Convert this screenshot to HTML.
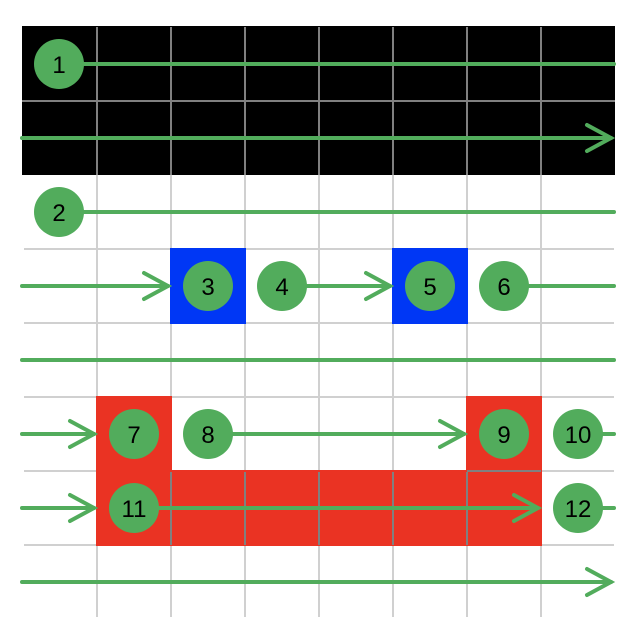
<!DOCTYPE html><html><head><style>body{margin:0;background:#fff}svg{display:block}</style></head><body>
<svg width="638" height="642" viewBox="0 0 638 642" xmlns="http://www.w3.org/2000/svg" font-family="Liberation Sans, sans-serif">
<rect x="22" y="26" width="593" height="149" fill="#000"/>
<g stroke="#d0d0d0" stroke-width="2">
<line x1="97" y1="175" x2="97" y2="617"/><line x1="171" y1="175" x2="171" y2="617"/><line x1="245" y1="175" x2="245" y2="617"/><line x1="319" y1="175" x2="319" y2="617"/><line x1="393" y1="175" x2="393" y2="617"/><line x1="467" y1="175" x2="467" y2="617"/><line x1="541" y1="175" x2="541" y2="617"/>
<line x1="24" y1="249" x2="614" y2="249"/><line x1="24" y1="323" x2="614" y2="323"/><line x1="24" y1="397" x2="614" y2="397"/><line x1="24" y1="471" x2="614" y2="471"/><line x1="24" y1="545" x2="614" y2="545"/>
</g>
<rect x="170" y="248" width="76" height="76" fill="#0037F5"/>
<rect x="392" y="248" width="76" height="76" fill="#0037F5"/>
<rect x="96" y="396" width="76" height="150" fill="#EA3323"/>
<rect x="466" y="396" width="76" height="150" fill="#EA3323"/>
<rect x="96" y="470" width="446" height="76" fill="#EA3323"/>
<g stroke="#808080" stroke-width="2">
<line x1="97" y1="27" x2="97" y2="175"/><line x1="171" y1="27" x2="171" y2="175"/><line x1="245" y1="27" x2="245" y2="175"/><line x1="319" y1="27" x2="319" y2="175"/><line x1="393" y1="27" x2="393" y2="175"/><line x1="467" y1="27" x2="467" y2="175"/><line x1="541" y1="27" x2="541" y2="175"/>
<line x1="22" y1="101" x2="615" y2="101"/>
<line x1="171" y1="472" x2="171" y2="545"/><line x1="245" y1="472" x2="245" y2="545"/><line x1="319" y1="472" x2="319" y2="545"/><line x1="393" y1="472" x2="393" y2="545"/><line x1="467" y1="472" x2="467" y2="545"/><line x1="467" y1="471" x2="541" y2="471"/>
</g>
<g stroke="#52AC5C" stroke-width="4" fill="none" stroke-linecap="round">
<line x1="84" y1="64" x2="614" y2="64"/>
<line x1="22" y1="138" x2="611" y2="138"/><polyline points="587,125 611,138 587,151"/>
<line x1="84" y1="212" x2="614" y2="212"/>
<line x1="22" y1="286" x2="168" y2="286"/><polyline points="144,273 168,286 144,299"/>
<line x1="307" y1="286" x2="390" y2="286"/><polyline points="366,273 390,286 366,299"/>
<line x1="529" y1="286" x2="614" y2="286"/>
<line x1="22" y1="360" x2="614" y2="360"/>
<line x1="22" y1="434" x2="94" y2="434"/><polyline points="70,421 94,434 70,447"/>
<line x1="233" y1="434" x2="464" y2="434"/><polyline points="440,421 464,434 440,447"/>
<line x1="603" y1="434" x2="614" y2="434"/>
<line x1="22" y1="508" x2="94" y2="508"/><polyline points="70,495 94,508 70,521"/>
<line x1="159" y1="508" x2="538" y2="508"/><polyline points="514,495 538,508 514,521"/>
<line x1="603" y1="508" x2="614" y2="508"/>
<line x1="22" y1="582" x2="611" y2="582"/><polyline points="587,569 611,582 587,595"/>
</g>
<g fill="#52AC5C">
<circle cx="59" cy="64" r="25"/><circle cx="59" cy="212" r="25"/><circle cx="208" cy="286" r="25"/><circle cx="282" cy="286" r="25"/><circle cx="430" cy="286" r="25"/><circle cx="504" cy="286" r="25"/><circle cx="134" cy="434" r="25"/><circle cx="208" cy="434" r="25"/><circle cx="504" cy="434" r="25"/><circle cx="578" cy="434" r="25"/><circle cx="134" cy="508" r="25"/><circle cx="578" cy="508" r="25"/>
</g>
<g font-size="24" text-anchor="middle" fill="#000">
<text x="59" y="73">1</text><text x="59" y="221">2</text><text x="208" y="295">3</text><text x="282" y="295">4</text><text x="430" y="295">5</text><text x="504" y="295">6</text><text x="134" y="443">7</text><text x="208" y="443">8</text><text x="504" y="443">9</text><text x="578" y="443">10</text><text x="134" y="517">11</text><text x="578" y="517">12</text>
</g>
</svg></body></html>
